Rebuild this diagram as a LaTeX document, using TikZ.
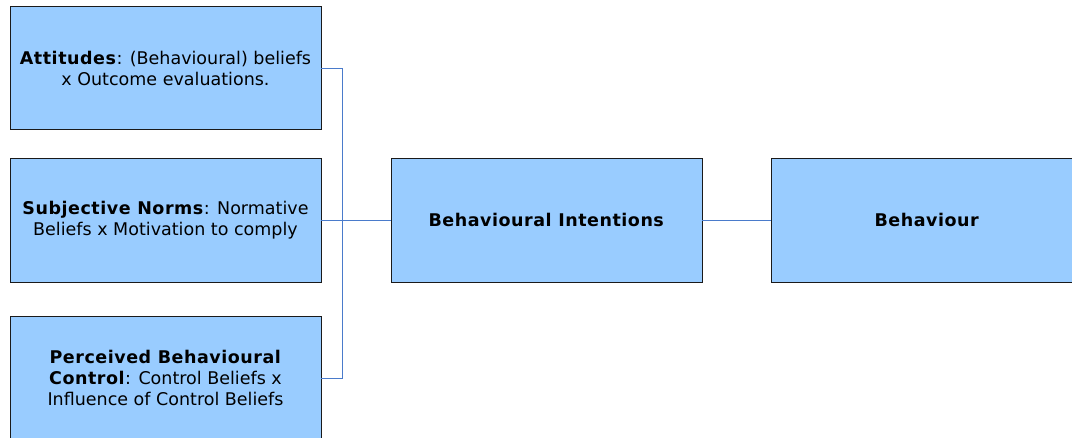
\documentclass[tikz,border=0pt]{standalone}
\usepackage{fontspec}
\setmainfont{DejaVu Sans}[BoldFeatures={LetterSpace=3}]
\definecolor{boxfill}{HTML}{99CCFF}
\definecolor{boxline}{HTML}{1A1A1A}
\definecolor{wire}{HTML}{4A7BCB}
\begin{document}
\begin{tikzpicture}[x=1pt,y=-1pt,
  factor/.style={draw=boxline,line width=0.9pt,fill=boxfill,minimum width=311pt,
    minimum height=124pt,inner sep=0pt,align=center,
    font=\fontsize{17.5}{21}\selectfont},
  link/.style={draw=wire,line width=0.9pt}]
\useasboundingbox (0,0) rectangle (1072,437);
\node[factor,minimum height=123pt] (att) at (165.5,68)
  {\textbf{Attitudes}: (Behavioural) beliefs\\x Outcome evaluations.};
\node[factor] (norm) at (165.5,220)
  {\textbf{Subjective Norms}: Normative\\Beliefs x Motivation to comply};
\node[factor] (pbc) at (165.5,378)
  {\textbf{Perceived Behavioural}\\\textbf{Control}: Control Beliefs x\\Influence of Control Beliefs};
\node[factor] (intent) at (546.5,220) {\textbf{Behavioural Intentions}};
\node[factor] (beh) at (927,220) {\textbf{Behaviour}};
\coordinate (bus) at (342,0);
\draw[link] (att.east) -- (att.east -| bus) -- (pbc.east -| bus) -- (pbc.east);
\draw[link] (norm.east) -- (intent.west);
\draw[link] (intent.east) -- (beh.west);
\end{tikzpicture}
\end{document}
